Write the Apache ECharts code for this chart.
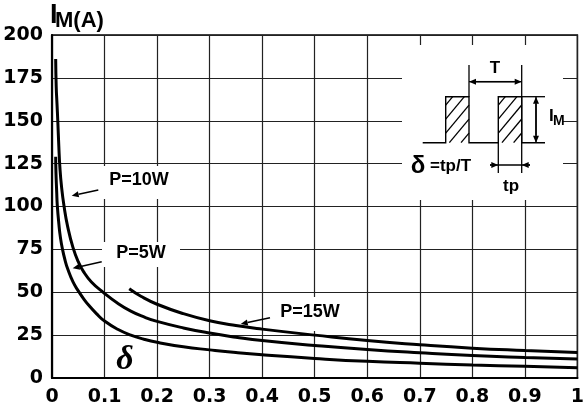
<!DOCTYPE html>
<html>
<head>
<meta charset="utf-8">
<script src="https://cdn.jsdelivr.net/npm/echarts@6/dist/echarts.min.js"></script>
<style>
html, body { margin: 0; padding: 0; background: #fff; }
#chart { width: 587px; height: 409px; }
</style>
</head>
<body>
<div id="chart"></div>
<script>
// duty cycle vs peak current, one curve per power rating
const p5W = [
    [0.007, 129], [0.0075, 120], [0.009, 108], [0.01, 101], [0.013, 90], [0.016, 82], [0.02, 75],
    [0.025, 68.5], [0.03, 63.5], [0.04, 56], [0.05, 50.8], [0.06, 46.3], [0.07, 42.4], [0.085, 37.4],
    [0.1, 33.2], [0.125, 28.4], [0.15, 25], [0.175, 22.6], [0.2, 20.8], [0.25, 18.2], [0.3, 16.4],
    [0.35, 14.8], [0.4, 13.5], [0.5, 11.4], [0.6, 9.7], [0.7, 8.6], [0.8, 7.6], [0.9, 6.8], [1.0, 6.0]
]
const p10W = [
    [0.007, 186], [0.008, 170], [0.0095, 160], [0.011, 150], [0.013, 135], [0.015, 123],
    [0.018, 112], [0.023, 100], [0.03, 88], [0.04, 76], [0.05, 67.8], [0.06, 62], [0.075, 56],
    [0.098, 49.8], [0.125, 43.6], [0.15, 39], [0.175, 35.6], [0.2, 33], [0.25, 29.2], [0.3, 26.2],
    [0.35, 23.8], [0.4, 21.8], [0.5, 19], [0.6, 16.6], [0.7, 14.7], [0.8, 13.1], [0.9, 12], [1.0, 11.1]
]
const p15W = [
    [0.147, 52], [0.17, 47.5], [0.2, 43], [0.25, 37.5], [0.3, 33.4], [0.35, 30.6],
    [0.4, 28.5], [0.5, 25], [0.6, 21.8], [0.7, 19.4], [0.8, 17.4], [0.9, 16], [1.0, 14.8]
]
const curveNames = ['P=5W', 'P=10W', 'P=15W']
const xTicks = [0, 0.1, 0.2, 0.3, 0.4, 0.5, 0.6, 0.7, 0.8, 0.9, 1]
const yTicks = [0, 25, 50, 75, 100, 125, 150, 175, 200]

const BOLD = 'Liberation Sans'

// little arrow: line from tail to head plus a filled head
function arrow(tx, ty, hx, hy) {
    const a = Math.atan2(hy - ty, hx - tx)
    const len = 7, w = 3
    const bx = hx - len * Math.cos(a), by = hy - len * Math.sin(a)
    const nx = -Math.sin(a) * w, ny = Math.cos(a) * w
    return [
        { type: 'line', z: 20, shape: { x1: tx, y1: ty, x2: bx, y2: by }, style: { stroke: '#000', lineWidth: 1.5 } },
        { type: 'polygon', z: 20, shape: { points: [[hx, hy], [bx + nx, by + ny], [bx - nx, by - ny]] }, style: { fill: '#000' } }
    ]
}

// hatch lines "/" inside a rectangle
function hatch(x0, y0, x1, y1, step, k) {
    const out = []
    for (let c = y0 + step * 0.6; c < y1 + k * (x1 - x0); c += step) {
        const xs = Math.max(x0, x0 + (c - y1) / k)
        const xe = Math.min(x1, x0 + (c - y0) / k)
        if (xe - xs > 1) {
            out.push({
                type: 'line', z: 20,
                shape: { x1: xs, y1: c - k * (xs - x0), x2: xe, y2: c - k * (xe - x0) },
                style: { stroke: '#000', lineWidth: 1.3 }
            })
        }
    }
    return out
}

function seg(x1, y1, x2, y2, lw) {
    return { type: 'line', z: 20, shape: { x1: x1, y1: y1, x2: x2, y2: y2 }, style: { stroke: '#000', lineWidth: lw || 1.3 } }
}

function txt(x, y, s, size, extra) {
    return {
        type: 'text', z: 21, x: x, y: y,
        style: Object.assign({
            text: s, fill: '#000', font: 'bold ' + size + 'px "' + BOLD + '"',
            align: 'center', verticalAlign: 'middle'
        }, extra || {})
    }
}

// white patch that hides grid lines but stays under the curves
function whiteBox(x, y, w, h) {
    return { type: 'rect', z: 1, shape: { x: x, y: y, width: w, height: h }, style: { fill: '#fff' } }
}

// inset pulse diagram
const pBase = 142.7, pTop = 96.7
const inset = [
    whiteBox(402, 45, 161, 155),
    { type: 'polyline', z: 20, shape: { points: [
        [422.7, pBase], [445.7, pBase], [445.7, pTop], [469, pTop], [469, pBase],
        [498.3, pBase], [498.3, pTop], [521.7, pTop], [521.7, pBase], [545, pBase]
    ] }, style: { stroke: '#000', lineWidth: 1.4, fill: null } },
    seg(521.7, pTop, 545, pTop),
    seg(469, 65, 469, pTop),
    seg(521.7, 65, 521.7, 173),
    seg(498.3, pBase, 498.3, 173),
    ...hatch(445.7, pTop, 469, pBase, 14, 1.2),
    ...hatch(498.3, pTop, 521.7, pBase, 14, 1.2),
    // T dimension
    seg(469, 81.7, 521.7, 81.7),
    ...arrow(495, 81.7, 469, 81.7),
    ...arrow(495, 81.7, 521.7, 81.7),
    txt(495, 68, 'T', 17),
    // IM dimension
    seg(536, pTop, 536, pBase),
    ...arrow(536, 120, 536, pTop),
    ...arrow(536, 120, 536, pBase),
    txt(549, 116, 'I', 17, { align: 'left' }),
    txt(553, 121, 'M', 14, { align: 'left' }),
    // tp dimension
    ...arrow(490, 165, 498.3, 165),
    ...arrow(530, 165, 521.7, 165),
    seg(490, 165, 530, 165),
    txt(511, 186, 'tp', 17),
    txt(418, 166, 'δ', 24),
    txt(430, 166, '=tp/T', 17, { align: 'left' })
]

const labels = [
    whiteBox(101, 166, 76, 33),
    txt(139, 180, curveNames[1], 18),
    ...arrow(98.3, 190, 71.7, 195.7),
    whiteBox(102, 242, 78, 25),
    txt(141, 253, curveNames[0], 18),
    ...arrow(101.7, 261.7, 72.7, 268.3),
    whiteBox(272, 297, 80, 34),
    txt(310, 312, curveNames[2], 18),
    ...arrow(270, 317.7, 240.7, 324),
    // big delta on the x axis
    {
        type: 'text', z: 21, x: 125, y: 360,
        style: { text: 'δ', fill: '#000', font: 'italic bold 34px "Liberation Serif"', align: 'center', verticalAlign: 'middle' }
    },
    // axis title I_M(A)
    txt(50, 16, 'I', 27, { align: 'left' }),
    txt(55, 21, 'M(A)', 22, { align: 'left' })
]

const chart = echarts.init(document.getElementById('chart'))

function curve(name, data) {
    return {
        name: name,
        type: 'line',
        data: data,
        smooth: 0.5,
        showSymbol: false,
        z: 5,
        lineStyle: { color: '#000', width: 3 }
    }
}

chart.setOption({
    animation: false,
    backgroundColor: '#fff',
    grid: {
        left: 52, right: 9, top: 35, bottom: 31,
        show: true, borderColor: '#000', borderWidth: 1.5
    },
    xAxis: {
        type: 'value',
        min: xTicks[0], max: xTicks[xTicks.length - 1], interval: 0.1,
        axisLine: { lineStyle: { color: '#000', width: 2.2 } },
        axisTick: { show: false },
        splitLine: { lineStyle: { color: '#222', width: 1.2 } },
        axisLabel: {
            margin: 10, color: '#000',
            fontFamily: 'DejaVu Sans', fontWeight: 'bold', fontSize: 19,
            formatter: v => (v === 0 || v === 1) ? String(v) : v.toFixed(1)
        }
    },
    yAxis: {
        type: 'value',
        min: yTicks[0], max: yTicks[yTicks.length - 1], interval: 25,
        axisLine: { show: true, lineStyle: { color: '#000', width: 2.2 } },
        axisTick: { show: false },
        splitLine: { lineStyle: { color: '#222', width: 1.2 } },
        axisLabel: {
            margin: 9, color: '#000',
            fontFamily: 'DejaVu Sans', fontWeight: 'bold', fontSize: 19
        }
    },
    series: [
        curve(curveNames[0], p5W),
        curve(curveNames[1], p10W),
        curve(curveNames[2], p15W)
    ],
    graphic: { elements: [...labels, ...inset] }
})
</script>
</body>
</html>
